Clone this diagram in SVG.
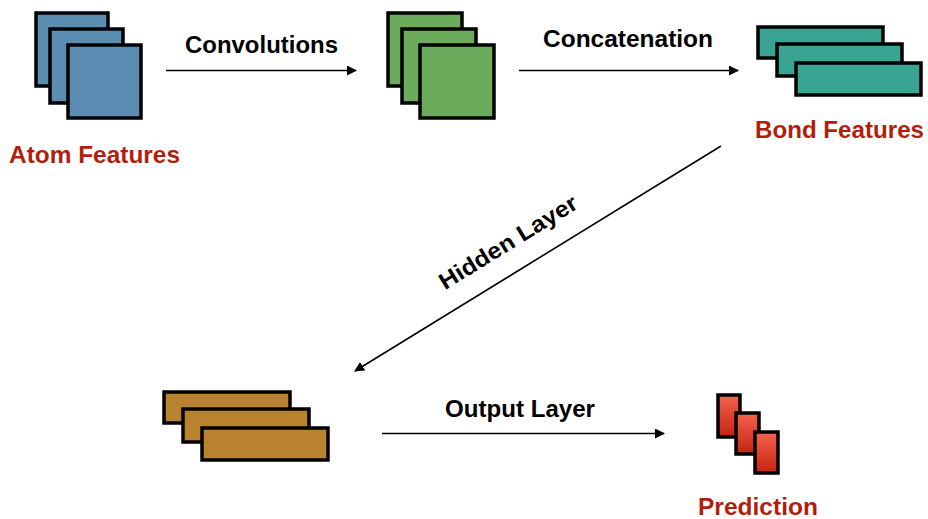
<svg xmlns="http://www.w3.org/2000/svg" width="928" height="519" viewBox="0 0 928 519">
<defs>
<linearGradient id="redg" x1="0" y1="0" x2="0" y2="1">
<stop offset="0" stop-color="#f5634f"/>
<stop offset="1" stop-color="#c4230f"/>
</linearGradient>
<marker id="arr" viewBox="0 0 10 10" refX="9" refY="5" markerWidth="10" markerHeight="10" markerUnits="userSpaceOnUse" orient="auto">
<path d="M0,0 L10,5 L0,10 z" fill="#000"/>
</marker>
<style>
.bx{stroke:#000;stroke-width:3.5}
.blue{fill:#5a8db1}
.green{fill:#6bab5b}
.teal{fill:#3aa493}
.brown{fill:#b8822f}
.red{fill:url(#redg)}
.lbl{font-family:"Liberation Sans",Arial,sans-serif;font-weight:bold;font-size:23px;fill:#000}
.rlbl{font-family:"Liberation Sans",Arial,sans-serif;font-weight:bold;font-size:24px;fill:#b31e0c}
.ln{stroke:#000;stroke-width:1.6;fill:none;marker-end:url(#arr)}
</style>
</defs>
<rect width="928" height="519" fill="#fff"/>
<g id="atom">
<rect class="bx blue" x="36" y="13" width="72" height="73"/>
<rect class="bx blue" x="50" y="29" width="73" height="74"/>
<rect class="bx blue" x="68" y="45" width="73" height="73"/>
<text class="rlbl" x="9" y="163" textLength="171" lengthAdjust="spacingAndGlyphs">Atom Features</text>
</g>
<g id="conv">
<rect class="bx green" x="388" y="13" width="74" height="73"/>
<rect class="bx green" x="402" y="29" width="74" height="74"/>
<rect class="bx green" x="420" y="45" width="74" height="73"/>
</g>
<g id="bond">
<rect class="bx teal" x="758" y="27" width="125" height="31"/>
<rect class="bx teal" x="777" y="44" width="125" height="32"/>
<rect class="bx teal" x="796" y="63" width="125" height="32"/>
<text class="rlbl" x="755" y="138" textLength="169" lengthAdjust="spacingAndGlyphs">Bond Features</text>
</g>
<g id="hidden">
<rect class="bx brown" x="164" y="392" width="126" height="31"/>
<rect class="bx brown" x="183" y="409" width="126" height="33"/>
<rect class="bx brown" x="202" y="428" width="126" height="32"/>
</g>
<g id="prediction">
<rect class="bx red" x="718" y="395" width="22" height="42"/>
<rect class="bx red" x="736" y="413" width="23" height="41"/>
<rect class="bx red" x="755" y="432" width="23" height="41"/>
<text class="rlbl" x="698" y="515" textLength="120" lengthAdjust="spacingAndGlyphs">Prediction</text>
</g>
<g id="connectors">
<line class="ln" x1="166" y1="70.5" x2="356" y2="70.5"/>
<text class="lbl" x="185" y="53" textLength="153" lengthAdjust="spacingAndGlyphs">Convolutions</text>
<line class="ln" x1="519" y1="70.5" x2="738" y2="70.5"/>
<text class="lbl" x="543" y="47" textLength="170" lengthAdjust="spacingAndGlyphs">Concatenation</text>
<line class="ln" x1="721" y1="146" x2="355" y2="371"/>
<text class="lbl" transform="translate(508,242) rotate(-31.6)" x="0" y="8" text-anchor="middle" textLength="158" lengthAdjust="spacingAndGlyphs">Hidden Layer</text>
<line class="ln" x1="382" y1="433.5" x2="664" y2="433.5"/>
<text class="lbl" x="445" y="417" textLength="150" lengthAdjust="spacingAndGlyphs">Output Layer</text>
</g>
</svg>
